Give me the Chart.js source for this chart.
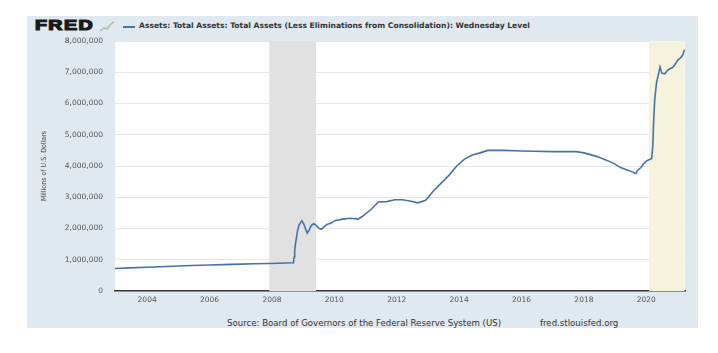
<!DOCTYPE html>
<html>
<head>
<meta charset="utf-8">
<script src="https://cdn.jsdelivr.net/npm/chart.js@4/dist/chart.umd.min.js"></script>
<style>
  body { margin: 0; background: #fff; font-family: 'DejaVu Sans', sans-serif; }
  #wrap { position: relative; width: 718px; height: 353px; }
  #panel { position: absolute; left: 27px; top: 16px; width: 671px; height: 312px; background: #e1e9f0; }
  #logo { position: absolute; left: 35px; top: 17px; font: bold 14px 'Liberation Sans', sans-serif; color: #1a1a1a; letter-spacing: 1px; -webkit-text-stroke: 1.2px #1a1a1a; transform: scaleX(1.4); transform-origin: left top; }
  #icon { position: absolute; left: 99px; top: 20px; }
  #legline { position: absolute; left: 123px; top: 26px; width: 12px; height: 2px; background: #4572a7; }
  #legtext { position: absolute; left: 139px; top: 21px; font: bold 7.6px 'DejaVu Sans', sans-serif; color: #333; white-space: nowrap; }
  #source { position: absolute; left: 227px; top: 318px; font: 8.6px 'DejaVu Sans', sans-serif; color: #333; white-space: nowrap; }
  #site { position: absolute; left: 540px; top: 318px; font: 8.6px 'DejaVu Sans', sans-serif; color: #333; white-space: nowrap; }
  canvas { position: absolute; left: 0; top: 0; }
</style>
</head>
<body>
<div id="wrap">
  <div id="panel"></div>
  <div id="logo">FRED</div>
  <svg id="icon" width="16" height="12"><polyline points="1,11 5,8 8,9 12,4 15,2" fill="none" stroke="#b8c4b0" stroke-width="2"/></svg>
  <div id="legline"></div>
  <div id="legtext">Assets: Total Assets: Total Assets (Less Eliminations from Consolidation): Wednesday Level</div>
  <div id="source">Source: Board of Governors of the Federal Reserve System (US)</div>
  <div id="site">fred.stlouisfed.org</div>
  <canvas id="myChart" width="718" height="353"></canvas>
</div>
<script>
// weekly level, millions of dollars
const dates = [
  '2002-12-18', '2003-06-04', '2004-01-07', '2004-06-02', '2005-01-05', '2005-06-01',
  '2006-01-04', '2006-06-07', '2007-01-03', '2007-06-06', '2007-12-05', '2008-03-05',
  '2008-06-04', '2008-09-10', '2008-09-17', '2008-09-24', '2008-10-08', '2008-10-29',
  '2008-11-12', '2008-12-17', '2009-01-07', '2009-01-28', '2009-02-18', '2009-03-11',
  '2009-04-08', '2009-05-06', '2009-06-03', '2009-07-08', '2009-08-05', '2009-09-02',
  '2009-10-07', '2009-12-02', '2010-01-06', '2010-04-07', '2010-07-07', '2010-10-06',
  '2010-12-01', '2011-03-02', '2011-06-01', '2011-09-07', '2011-12-07', '2012-03-07',
  '2012-06-06', '2012-09-05', '2012-12-05', '2013-03-06', '2013-06-05', '2013-09-04',
  '2013-12-04', '2014-03-05', '2014-06-04', '2014-09-03', '2014-12-03', '2015-06-03',
  '2016-01-06', '2016-06-01', '2017-01-04', '2017-06-07', '2017-10-04', '2018-01-03',
  '2018-06-06', '2018-12-05', '2019-03-06', '2019-06-05', '2019-09-04', '2019-09-18',
  '2019-10-30', '2019-12-11', '2020-01-08', '2020-03-04', '2020-03-18', '2020-03-25',
  '2020-04-08', '2020-04-29', '2020-06-10', '2020-07-01', '2020-08-05', '2020-09-02',
  '2020-10-07', '2020-11-04', '2020-12-02', '2021-01-06', '2021-02-03', '2021-03-03',
  '2021-03-24'
];
const totalAssets = [
  720000, 740000, 760000, 775000, 800000, 815000,
  830000, 845000, 860000, 870000, 880000, 890000,
  895000, 905000, 1090000, 1300000, 1600000, 1950000,
  2100000, 2250000, 2150000, 2000000, 1850000, 1950000,
  2100000, 2150000, 2100000, 2000000, 1980000, 2050000,
  2130000, 2180000, 2250000, 2300000, 2330000, 2300000,
  2400000, 2600000, 2850000, 2860000, 2920000, 2920000,
  2880000, 2820000, 2900000, 3200000, 3450000, 3700000,
  4000000, 4220000, 4350000, 4420000, 4500000, 4500000,
  4480000, 4470000, 4460000, 4460000, 4460000, 4420000,
  4300000, 4100000, 3950000, 3860000, 3760000, 3850000,
  3950000, 4100000, 4170000, 4240000, 4670000, 5300000,
  6100000, 6650000, 7170000, 6970000, 6950000, 7050000,
  7120000, 7150000, 7250000, 7400000, 7450000, 7550000,
  7720000
];
const tickYears = [2004, 2006, 2008, 2010, 2012, 2014, 2016, 2018, 2020];
const recessionStart = ['2007-12-01', '2020-02-01'];
const recessionEnd = ['2009-06-01', '2021-03-24'];
const recessionColor = ['#e1e1e1', '#f5f3dc'];

function toYear(s) {
  const d = new Date(s + 'T00:00:00Z');
  const y = d.getUTCFullYear();
  const start = Date.UTC(y, 0, 1);
  const end = Date.UTC(y + 1, 0, 1);
  return y + (d.getTime() - start) / (end - start);
}

const points = dates.map((d, i) => ({ x: toYear(d), y: totalAssets[i] }));

// white plot background + recession bands
const bands = {
  id: 'bands',
  beforeDatasetsDraw(chart) {
    const { ctx, chartArea, scales } = chart;
    ctx.save();
    recessionStart.forEach((s, i) => {
      const x1 = Math.max(scales.x.getPixelForValue(toYear(s)), chartArea.left);
      const x2 = Math.min(scales.x.getPixelForValue(toYear(recessionEnd[i])), chartArea.right);
      ctx.fillStyle = recessionColor[i];
      ctx.fillRect(x1, chartArea.top, x2 - x1, chartArea.bottom - chartArea.top);
    });
    ctx.restore();
  },
  beforeDraw(chart) {
    const { ctx, chartArea } = chart;
    ctx.save();
    ctx.fillStyle = '#fff';
    ctx.fillRect(chartArea.left, chartArea.top, chartArea.right - chartArea.left, chartArea.bottom - chartArea.top);
    ctx.restore();
  }
};

const ctx = document.getElementById('myChart').getContext('2d');
const chart = new Chart(ctx, {
  type: 'line',
  data: {
    datasets: [{
      label: 'Total Assets',
      data: points,
      borderColor: '#4572a7',
      borderWidth: 1.6,
      pointRadius: 0,
      tension: 0,
      fill: false
    }]
  },
  options: {
    responsive: false,
    animation: false,
    layout: { padding: { left: 36, right: 33, top: 41, bottom: 0 } },
    plugins: {
      legend: { display: false },
      tooltip: { enabled: false }
    },
    scales: {
      x: {
        type: 'linear',
        min: 2002.97,
        max: 2021.24,
        afterFit: s => { s.height = 62; },
        afterBuildTicks: s => { s.ticks = tickYears.map(v => ({ value: v })); },
        grid: { display: false, drawTicks: false },
        border: { display: true, color: '#333', width: 1.5 },
        ticks: {
          padding: 5,
          color: '#555',
          font: { family: 'DejaVu Sans', size: 7.5 },
          callback: v => String(v),
          maxRotation: 0
        }
      },
      y: {
        min: 0,
        max: 8000000,
        afterFit: s => { s.width = 79; },
        grid: { color: '#e6e6e6', drawTicks: false },
        border: { display: false },
        ticks: {
          stepSize: 1000000,
          padding: 12,
          color: '#555',
          font: { family: 'DejaVu Sans', size: 7.5 },
          callback: v => v.toLocaleString('en-US')
        },
        title: {
          display: true,
          text: 'Millions of U.S. Dollars',
          color: '#444',
          font: { family: 'DejaVu Sans Condensed', size: 7 }
        }
      }
    }
  },
  plugins: [bands]
});
</script>
</body>
</html>
